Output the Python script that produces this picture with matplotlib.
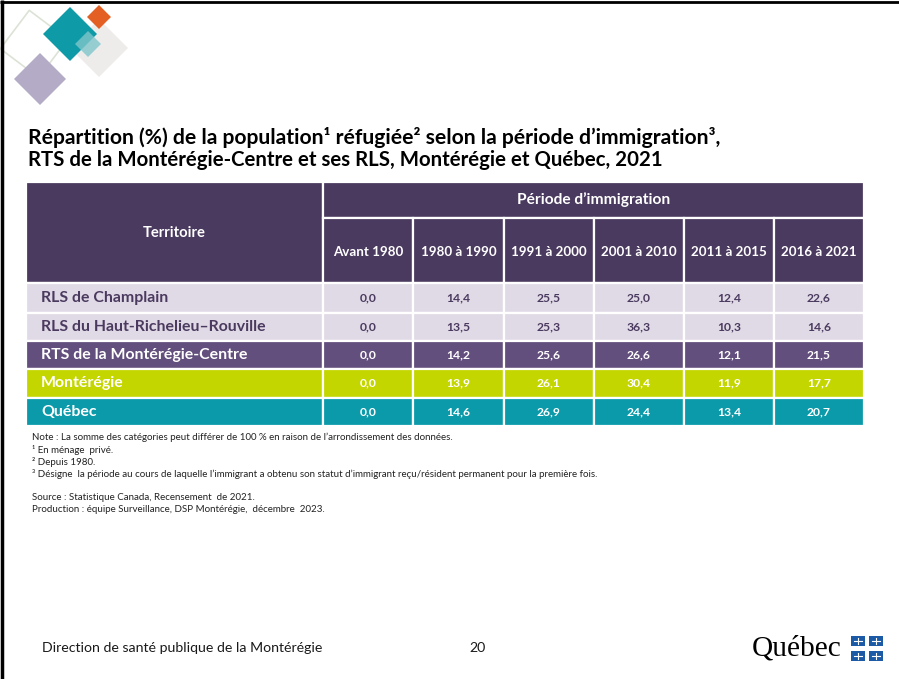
import matplotlib
matplotlib.use("Agg")
import matplotlib.pyplot as plt
from matplotlib.patches import Rectangle, Polygon
import numpy as np

# ---------------- data ----------------
title_lines = ["Répartition (%) de la population¹ réfugiée² selon la période d’immigration³,",
               "RTS de la Montérégie-Centre et ses RLS, Montérégie et Québec, 2021"]
col_header = "Territoire"
group_header = "Période d’immigration"
periods = ["Avant 1980", "1980 à 1990", "1991 à 2000", "2001 à 2010", "2011 à 2015", "2016 à 2021"]
territories = ["RLS de Champlain", "RLS du Haut-Richelieu–Rouville",
               "RTS de la Montérégie-Centre", "Montérégie", "Québec"]
values = [
    [0.0, 14.4, 25.5, 25.0, 12.4, 22.6],
    [0.0, 13.5, 25.3, 36.3, 10.3, 14.6],
    [0.0, 14.2, 25.6, 26.6, 12.1, 21.5],
    [0.0, 13.9, 26.1, 30.4, 11.9, 17.7],
    [0.0, 14.6, 26.9, 24.4, 13.4, 20.7],
]
notes = ["Note : La somme des catégories peut différer de 100 % en raison de l’arrondissement des données.",
         "¹ En ménage  privé.",
         "² Depuis 1980.",
         "³ Désigne  la période au cours de laquelle l’immigrant a obtenu son statut d’immigrant reçu/résident permanent pour la première fois.",
         "",
         "Source : Statistique Canada, Recensement  de 2021.",
         "Production : équipe Surveillance, DSP Montérégie,  décembre  2023."]
footer_text = "Direction de santé publique de la Montérégie"
page_no = "20"

# ---------------- style ----------------
HEAD = "#4B3A5F"
LIGHT = "#E0DAE6"
RTS = "#634F7D"
LIME = "#C4D600"
TEAL = "#0A9AAA"
row_colors = [LIGHT, LIGHT, RTS, LIME, TEAL]
row_text = [HEAD, HEAD, "white", "white", "white"]
FONT = ["Lato", "DejaVu Sans"]

W, H = 899, 679
fig = plt.figure(figsize=(W / 100, H / 100), dpi=100)
ax = fig.add_axes([0, 0, 1, 1])
ax.set_xlim(0, W)
ax.set_ylim(H, 0)
ax.axis("off")
fig.canvas.draw()
renderer = fig.canvas.get_renderer()


def fit(t, width):
    bb = t.get_window_extent(renderer)
    t.set_fontsize(t.get_fontsize() * width / bb.width)
    return t.get_fontsize()


def txt(x, y, s, size=10, **kw):
    kw.setdefault("family", FONT)
    return ax.text(x, y, s, fontsize=size, **kw)


# slide frame (left & top)
ax.plot([1.5, 1.5], [0, H], color="black", lw=2.5, solid_capstyle="butt")
ax.plot([0, W], [1.5, 1.5], color="black", lw=2.0, solid_capstyle="butt")

# logo diamonds
def diamond(cx, cy, h, color, alpha=1.0, fill=True, ec=None, lw=0, rot=0):
    ang = np.deg2rad(np.array([90, 0, -90, 180]) + rot)
    pts = np.c_[cx + h * np.cos(ang), cy - h * np.sin(ang)]
    ax.add_patch(Polygon(pts, closed=True, fc=color if fill else "none",
                         ec=ec if ec else "none", lw=lw, alpha=alpha, joinstyle="round"))

diamond(34, 44, 34, None, fill=False, ec="#DCE3D6", lw=1.2, rot=8)
diamond(40, 79, 26, "#B4ABC6")
diamond(99, 48, 29, "#EEECEB")
diamond(99, 17, 12, "#E35F24")
diamond(70, 34, 27, "#0E9AA7")
diamond(88, 44, 13, "#7FC6CB", alpha=0.8)

# title
t1 = txt(28, 137, title_lines[0], 14, fontweight="bold", color="black", va="center")
t2 = txt(28, 160, title_lines[1], 14, fontweight="bold", color="black", va="center")
fit(t1, 699)
fit(t2, 638)

# table geometry
x_edges = [26, 323, 413, 504, 594, 684, 774, 864]
hdr_top, hdr_mid, hdr_bot = 182, 217.5, 283
row_edges = [283, 312.5, 341, 369, 397.5, 426]
EDGE = dict(ec="white", lw=1.6)

# header cells
ax.add_patch(Rectangle((x_edges[0], hdr_top), x_edges[1] - x_edges[0], hdr_bot - hdr_top, fc=HEAD, **EDGE))
ax.add_patch(Rectangle((x_edges[1], hdr_top), x_edges[-1] - x_edges[1], hdr_mid - hdr_top, fc=HEAD, **EDGE))
for j in range(len(periods)):
    ax.add_patch(Rectangle((x_edges[j + 1], hdr_mid), x_edges[j + 2] - x_edges[j + 1],
                           hdr_bot - hdr_mid, fc=HEAD, **EDGE))

t = txt((x_edges[0] + x_edges[1]) / 2, 233, col_header, 10, fontweight="bold", color="white",
        ha="center", va="center")
fit(t, 63)
t = txt((x_edges[1] + x_edges[-1]) / 2, 200, group_header, 10, fontweight="bold", color="white",
        ha="center", va="center")
fit(t, 153)
sub = []
for j, p in enumerate(periods):
    sub.append(txt((x_edges[j + 1] + x_edges[j + 2]) / 2, 251.5, p, 10, fontweight="bold",
                   color="white", ha="center", va="center"))
fs_sub = fit(sub[-1], 76)
for s in sub:
    s.set_fontsize(fs_sub)

# body
labs, nums = [], []
for i, terr in enumerate(territories):
    y0, y1 = row_edges[i], row_edges[i + 1]
    yc = (y0 + y1) / 2
    for j in range(len(x_edges) - 1):
        ax.add_patch(Rectangle((x_edges[j], y0), x_edges[j + 1] - x_edges[j], y1 - y0,
                               fc=row_colors[i], **EDGE))
    labs.append(txt(41, yc, terr, 10, fontweight="bold", color=row_text[i], va="center"))
    for j, v in enumerate(values[i]):
        nums.append(txt((x_edges[j + 1] + x_edges[j + 2]) / 2, yc, f"{v:.1f}".replace(".", ","),
                        10, fontweight="bold", color=row_text[i], ha="center", va="center"))
fs_lab = fit(labs[1], 226)
for l in labs:
    l.set_fontsize(fs_lab)
fs_num = fit(nums[1], 24)
for n in nums:
    n.set_fontsize(fs_num)

# notes
note_y = [437, 450, 462, 474, 486, 497, 509]
nt = []
for s, y in zip(notes, note_y):
    if s:
        nt.append(txt(32, y, s, 7, color="#222222", va="center"))
fs_note = fit(nt[3], 565)
for n in nt:
    n.set_fontsize(fs_note)

# footer
ft = txt(42, 648, footer_text, 10, color="#1a1a1a", va="center")
fs_ft = fit(ft, 280)
txt(478, 648, page_no, fs_ft, color="#1a1a1a", va="center", ha="center")

# Québec logo
q = txt(752, 648, "Québec", 18, family=["Liberation Serif", "DejaVu Serif"], color="black", va="center")
fit(q, 90)
FLAG = "#1D5AA6"
for fx in (851, 869):
    for fy in (636, 651):
        ax.add_patch(Rectangle((fx, fy), 14, 10, fc=FLAG, ec="none"))
        ax.plot([fx + 7, fx + 7], [fy + 2, fy + 8], color="white", lw=0.8)
        ax.plot([fx + 3, fx + 11], [fy + 5, fy + 5], color="white", lw=0.8)

fig.savefig("out.png", dpi=100)
